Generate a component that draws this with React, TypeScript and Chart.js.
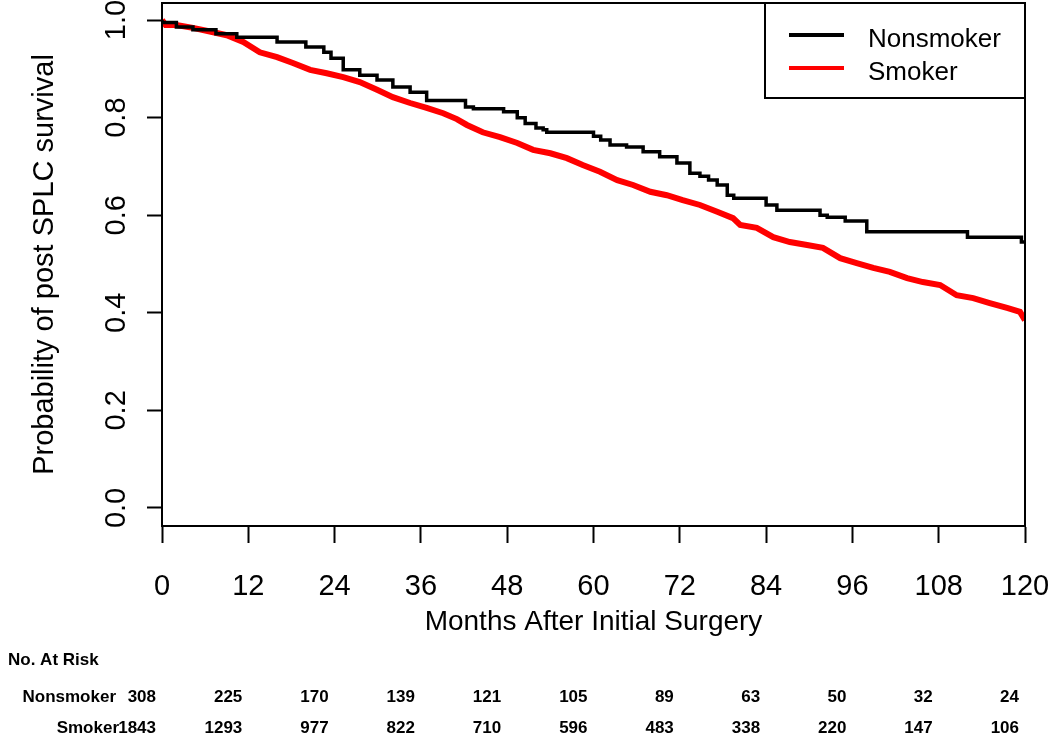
import React, { useEffect, useRef } from "react";
import { Chart, registerables } from "chart.js";

Chart.register(...registerables);

const xTicks = [0, 12, 24, 36, 48, 60, 72, 84, 96, 108, 120];
const yTicks = [0, 0.2, 0.4, 0.6, 0.8, 1.0];

const seriesNames = ["Nonsmoker", "Smoker"];
const nonsmokerAtRisk = [308, 225, 170, 139, 121, 105, 89, 63, 50, 32, 24];
const smokerAtRisk = [1843, 1293, 977, 822, 710, 596, 483, 338, 220, 147, 106];

const nonsmokerMonths = [
  0, 2, 4.3, 7.5, 10.4, 16, 20, 22.5, 23.5, 25.2, 27.5, 29.9, 32.1, 34.5, 36.8,
  42.2, 43.3, 47.5, 49.4, 50.5, 52, 53, 53.5, 60, 61, 62.3, 64.6, 66.9, 69.2,
  71.6, 73.4, 74.8, 76, 77.2, 78.6, 79.5, 84, 85.5, 91.5, 92.5, 95, 98, 112,
  119.5, 120,
];
const nonsmokerSurvival = [
  1.0, 0.995, 0.986, 0.98, 0.972, 0.965, 0.955, 0.945, 0.934, 0.922, 0.898,
  0.887, 0.877, 0.863, 0.852, 0.835, 0.822, 0.818, 0.812, 0.8, 0.788, 0.779,
  0.775, 0.77, 0.762, 0.754, 0.744, 0.74, 0.73, 0.72, 0.707, 0.686, 0.68, 0.672,
  0.662, 0.641, 0.635, 0.621, 0.61, 0.6, 0.596, 0.588, 0.566, 0.555, 0.545,
];

const smokerMonths = [
  0, 0.5, 2, 4.3, 6.5, 9, 11.3, 13.6, 16, 18.2, 20.6, 22.9, 25.2, 27.5, 29.9,
  32.1, 34.5, 36.8, 39.1, 41, 42.4, 44.6, 47, 49.4, 51.6, 54, 56.3, 58.5, 60.9,
  63.3, 65.5, 67.9, 70.2, 72.4, 74.8, 77.2, 79.4, 80.4, 82.7, 85, 87.3, 89.7,
  91.9, 94.3, 96.6, 98.9, 101.2, 103.6, 105.8, 108.2, 110.5, 112.8, 115.1,
  117.5, 119.3, 120,
];
const smokerSurvival = [
  1.0, 0.99, 0.99, 0.984, 0.977, 0.969, 0.955, 0.934, 0.924, 0.912, 0.898,
  0.891, 0.883, 0.873, 0.857, 0.842, 0.83, 0.82, 0.809, 0.797, 0.785, 0.77,
  0.76, 0.748, 0.734, 0.727, 0.717, 0.703, 0.689, 0.672, 0.662, 0.648, 0.641,
  0.631, 0.621, 0.607, 0.594, 0.58, 0.574, 0.555, 0.545, 0.539, 0.533, 0.512,
  0.502, 0.492, 0.484, 0.471, 0.463, 0.457, 0.436, 0.43, 0.42, 0.41, 0.402,
  0.385,
];

const seriesColors = ["#000000", "#ff0000"];
const FONT = '"Liberation Sans", Arial, sans-serif';

const customPlugin = {
  id: "rstyle",
  afterDraw(chart: any) {
    const { ctx, chartArea, scales } = chart;
    const { left, top, right, bottom } = chartArea;
    const xs = scales.x;
    const ys = scales.y;
    ctx.save();
    // plot box
    ctx.strokeStyle = "#000";
    ctx.lineWidth = 2;
    ctx.strokeRect(left, top, right - left, bottom - top);

    ctx.fillStyle = "#000";
    // y tick labels (rotated)
    ctx.font = `29px ${FONT}`;
    yTicks.forEach((v) => {
      const py = ys.getPixelForValue(v);
      ctx.save();
      ctx.translate(left - 37, py);
      ctx.rotate(-Math.PI / 2);
      ctx.textAlign = "center";
      ctx.textBaseline = "alphabetic";
      ctx.fillText(v.toFixed(1), 0, 0);
      ctx.restore();
    });
    // y title
    ctx.save();
    ctx.translate(left - 109, (top + bottom) / 2);
    ctx.rotate(-Math.PI / 2);
    ctx.textAlign = "center";
    ctx.textBaseline = "alphabetic";
    ctx.font = `29px ${FONT}`;
    ctx.fillText("Probability of post SPLC survival", 0, 0);
    ctx.restore();

    // x tick labels
    ctx.textAlign = "center";
    ctx.textBaseline = "alphabetic";
    ctx.font = `29px ${FONT}`;
    xTicks.forEach((v) => {
      ctx.fillText(String(v), xs.getPixelForValue(v), bottom + 69);
    });
    // x title
    ctx.font = `28px ${FONT}`;
    ctx.fillText("Months After Initial Surgery", (left + right) / 2, bottom + 104);

    // legend
    const lw = 260;
    const lh = 95;
    const lx = right - lw;
    ctx.lineWidth = 2;
    ctx.strokeRect(lx, top, lw, lh);
    ctx.font = `26px ${FONT}`;
    ctx.textAlign = "left";
    seriesNames.forEach((name, i) => {
      const cy = top + 32 + i * 33;
      ctx.strokeStyle = seriesColors[i];
      ctx.lineWidth = 4;
      ctx.beginPath();
      ctx.moveTo(lx + 24, cy);
      ctx.lineTo(lx + 79, cy);
      ctx.stroke();
      ctx.fillStyle = "#000";
      ctx.fillText(name, lx + 103, cy + 12);
    });

    // risk table
    ctx.fillStyle = "#000";
    ctx.font = `bold 17px ${FONT}`;
    ctx.textAlign = "left";
    ctx.fillText("No. At Risk", 8, 665);
    const rows = [nonsmokerAtRisk, smokerAtRisk];
    rows.forEach((vals, r) => {
      const by = 702 + r * 31;
      ctx.textAlign = "right";
      ctx.fillText(seriesNames[r], r === 0 ? 116 : 119, by);
      vals.forEach((n, i) => {
        ctx.fillText(String(n), xs.getPixelForValue(xTicks[i]) - 6, by);
      });
    });
    ctx.restore();
  },
};

export default function App() {
  const ref = useRef<HTMLCanvasElement | null>(null);
  useEffect(() => {
    if (!ref.current) return;
    const mk = (mx: number[], sv: number[]) => mx.map((m, i) => ({ x: m, y: sv[i] }));
    const chart = new Chart(ref.current, {
      type: "line",
      data: {
        datasets: [
          {
            label: seriesNames[0],
            data: mk(nonsmokerMonths, nonsmokerSurvival),
            borderColor: seriesColors[0],
            borderWidth: 3.5,
            pointRadius: 0,
            stepped: "after",
            order: 0,
          },
          {
            label: seriesNames[1],
            data: mk(smokerMonths, smokerSurvival),
            borderColor: seriesColors[1],
            borderWidth: 6,
            pointRadius: 0,
            tension: 0,
            order: 1,
          },
        ],
      },
      options: {
        animation: false,
        responsive: false,
        devicePixelRatio: 1,
        layout: { padding: { top: 3, right: 25, left: 0, bottom: 0 } },
        plugins: {
          legend: { display: false },
          title: { display: false },
          tooltip: { enabled: false },
        },
        scales: {
          x: {
            type: "linear",
            min: 0,
            max: 120,
            afterBuildTicks: (s: any) => {
              s.ticks = xTicks.map((v) => ({ value: v }));
            },
            afterFit: (s: any) => {
              s.height = 209;
            },
            ticks: { display: false },
            grid: {
              display: true,
              drawOnChartArea: false,
              drawTicks: true,
              tickLength: 17,
              tickWidth: 2,
              tickColor: "#000",
            },
            border: { display: true, color: "#000", width: 2 },
          },
          y: {
            type: "linear",
            min: -0.037,
            max: 1.035,
            afterBuildTicks: (s: any) => {
              s.ticks = yTicks.map((v) => ({ value: v }));
            },
            afterFit: (s: any) => {
              s.width = 162;
            },
            ticks: { display: false },
            grid: {
              display: true,
              drawOnChartArea: false,
              drawTicks: true,
              tickLength: 15,
              tickWidth: 2,
              tickColor: "#000",
            },
            border: { display: true, color: "#000", width: 2 },
          },
        },
      },
      plugins: [customPlugin],
    });
    return () => chart.destroy();
  }, []);
  return (
    <div style={{ position: "absolute", left: 0, top: 0, width: 1050, height: 735, background: "#fff" }}>
      <canvas ref={ref} width={1050} height={735} />
    </div>
  );
}
